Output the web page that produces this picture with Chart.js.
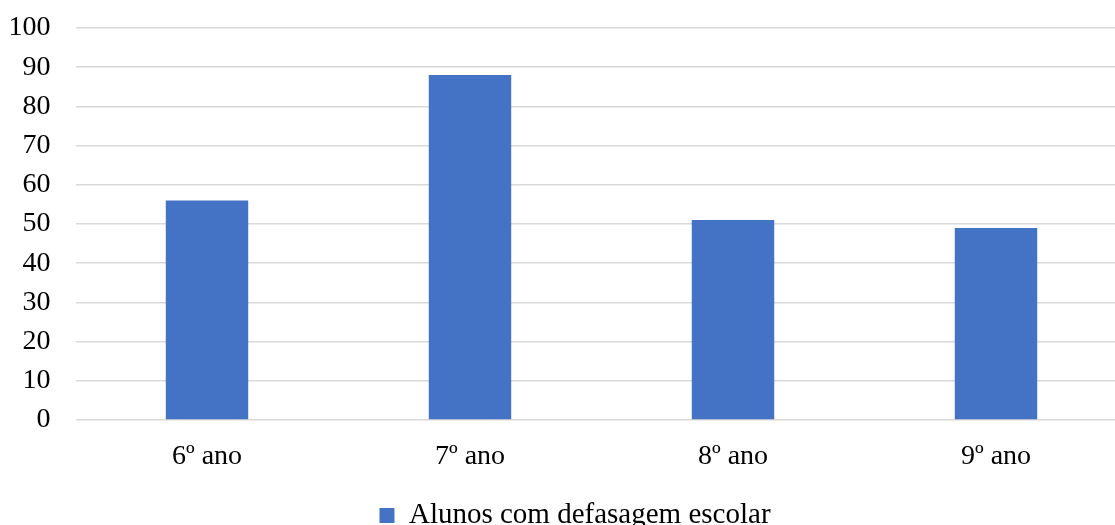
<!DOCTYPE html>
<html>
<head>
<meta charset="utf-8">
<script src="https://cdn.jsdelivr.net/npm/chart.js@4.4.1/dist/chart.umd.min.js"></script>
<style>
  html, body { margin: 0; padding: 0; background: #ffffff; overflow: hidden; }
  #wrap { width: 1115px; height: 525px; overflow: hidden; position: relative; }
  #c { display: block; }
</style>
</head>
<body>
<div id="wrap"><canvas id="c" width="1150" height="540"></canvas></div>
<script>
// Students with school-age lag, by grade
const categories = ['6º ano', '7º ano', '8º ano', '9º ano'];
const seriesLabel = 'Alunos com defasagem escolar';
const seriesValues = [56, 88, 51, 49];
const yTicks = [0, 10, 20, 30, 40, 50, 60, 70, 80, 90, 100];

const FAMILY = '"Liberation Serif", "Times New Roman", serif';
const TICK_FONT = { family: FAMILY, size: 28 };
const LEGEND_FONT = { family: FAMILY, size: 29 };
const BLUE = '#4472c4';

new Chart(document.getElementById('c'), {
  type: 'bar',
  data: {
    labels: categories,
    datasets: [{
      label: seriesLabel,
      data: seriesValues,
      backgroundColor: BLUE,
      borderWidth: 0,
      categoryPercentage: 1,
      barPercentage: 0.3135
    }]
  },
  options: {
    responsive: false,
    animation: false,
    devicePixelRatio: 1,
    layout: { padding: { top: 28, right: 0, left: 0, bottom: 0 } },
    plugins: {
      tooltip: { enabled: false },
      legend: {
        position: 'bottom',
        labels: {
          color: '#000000',
          font: LEGEND_FONT,
          boxWidth: 15,
          boxHeight: 15,
          padding: 10
        }
      }
    },
    scales: {
      x: {
        grid: { display: false, drawTicks: false },
        border: { display: false },
        ticks: { color: '#000000', font: TICK_FONT, padding: 20, maxRotation: 0 },
        afterFit: (s) => { s.height = 71; }
      },
      y: {
        min: 0,
        max: 100,
        afterBuildTicks: (s) => { s.ticks = yTicks.map(v => ({ value: v })); },
        grid: { color: '#d9d9d9', lineWidth: 1.5, drawTicks: false },
        border: { display: false },
        ticks: { color: '#000000', font: TICK_FONT, padding: 25 },
        afterFit: (s) => { s.width = 75.5; s.paddingTop = 0; s.paddingBottom = 0; }
      },
      // empty right-hand margin strip so the plot ends before the legend's centre line shifts
      margin: {
        position: 'right',
        grid: { display: false, drawTicks: false },
        border: { display: false },
        ticks: { display: false },
        afterFit: (s) => { s.width = 22.5; s.paddingTop = 0; s.paddingBottom = 0; }
      }
    }
  }
});
</script>
</body>
</html>
